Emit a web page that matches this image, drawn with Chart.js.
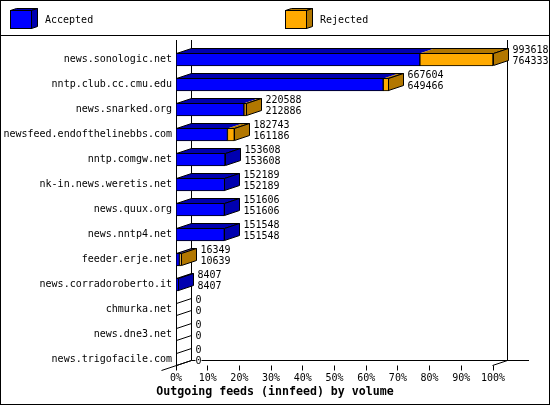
<!DOCTYPE html>
<html>
<head>
<meta charset="utf-8">
<style>
body { margin: 0; background: #fff; }
canvas { display: block; }
</style>
<script src="https://cdn.jsdelivr.net/npm/chart.js@4"></script>
</head>
<body>
<canvas id="feeds" width="550" height="405"></canvas>
<script>
const feeds = ['news.sonologic.net', 'nntp.club.cc.cmu.edu', 'news.snarked.org', 'newsfeed.endofthelinebbs.com',
    'nntp.comgw.net', 'nk-in.news.weretis.net', 'news.quux.org', 'news.nntp4.net', 'feeder.erje.net',
    'news.corradoroberto.it', 'chmurka.net', 'news.dne3.net', 'news.trigofacile.com'];
const offered = [993618, 667604, 220588, 182743, 153608, 152189, 151606, 151548, 16349, 8407, 0, 0, 0];
const accepted = [764333, 649466, 212886, 161186, 153608, 152189, 151606, 151548, 10639, 8407, 0, 0, 0];
const rejected = offered.map((v, i) => v - accepted[i]);
const tickLabels = ['0%', '10%', '20%', '30%', '40%', '50%', '60%', '70%', '80%', '90%', '100%'];
const xTitle = 'Outgoing feeds (innfeed) by volume';

const BLUE = '#0000ff', DARK_BLUE = '#0000b0';
const ORANGE = '#ffaa00', DARK_ORANGE = '#b27700';
const FONT = '"DejaVu Sans Mono", monospace';
const DX = 15, DY = 5;

function poly(ctx, pts, fill, noStroke) {
    ctx.beginPath();
    pts.forEach((p, i) => i ? ctx.lineTo(p[0], p[1]) : ctx.moveTo(p[0], p[1]));
    ctx.closePath();
    if (fill) { ctx.fillStyle = fill; ctx.fill(); }
    if (!noStroke) ctx.stroke();
}

function line(ctx, x1, y1, x2, y2) {
    ctx.beginPath();
    ctx.moveTo(x1, y1);
    ctx.lineTo(x2, y2);
    ctx.stroke();
}

// frame, legend, axis title and the back walls
const walls = {
    id: 'walls',
    beforeDatasetsDraw(chart) {
        const ctx = chart.ctx, x = chart.scales.x;
        const x0 = x.left + 0.5, x1 = x.right - 0.5, top = 40, floor = 365.5;
        ctx.save();
        ctx.strokeStyle = '#000';
        ctx.lineWidth = 1;
        ctx.strokeRect(0.5, 0.5, 549, 404);
        line(ctx, 0, 35.5, 550, 35.5);

        chart.data.datasets.forEach((ds, i) => {
            const left = i == 0 ? 10 : 285;
            poly(ctx, [[left + 0.5, 10.5], [left + 6.5, 8.5], [left + 27.5, 8.5], [left + 21.5, 10.5]], ds.sideColor);
            poly(ctx, [[left + 21.5, 10.5], [left + 27.5, 8.5], [left + 27.5, 26.5], [left + 21.5, 28.5]], ds.sideColor);
            ctx.fillStyle = ds.backgroundColor;
            ctx.fillRect(left + 0.5, 10.5, 21, 18);
            ctx.strokeRect(left + 0.5, 10.5, 21, 18);
            ctx.fillStyle = '#000';
            ctx.font = '10px ' + FONT;
            ctx.textBaseline = 'middle';
            ctx.textAlign = 'left';
            ctx.fillText(ds.label, left + 35, 20);
        });

        ctx.fillStyle = '#000';
        ctx.font = 'bold 11.6px ' + FONT;
        ctx.textAlign = 'center';
        ctx.fillText(xTitle, 275, 392);

        line(ctx, x0, top, x0, floor);
        line(ctx, x0 + DX, top, x0 + DX, floor - DY);
        line(ctx, x1 + DX, top, x1 + DX, floor - DY);
        line(ctx, x0 + DX, floor - DY, 529, floor - DY);
        line(ctx, x0 - DX, floor + DY, x0 + DX, floor - DY);
        line(ctx, x1, floor, x1 + DX, floor - DY);
        x.ticks.forEach((t) => {
            const px = Math.round(x.getPixelForValue(t.value) - 0.5) + 0.5;
            line(ctx, px, floor, px, floor + 5);
        });
        ctx.restore();
    }
};

// depth faces of the bars and the two value labels of every row
const faces = {
    id: 'faces',
    afterDatasetsDraw(chart) {
        const ctx = chart.ctx, x = chart.scales.x, y = chart.scales.y;
        ctx.save();
        ctx.strokeStyle = '#000';
        ctx.lineWidth = 1;
        ctx.font = '10px ' + FONT;
        ctx.textBaseline = 'middle';
        ctx.textAlign = 'left';
        feeds.forEach((name, i) => {
            const yc = y.getPixelForValue(i);
            const yt = yc - 6, yb = yc + 6;
            const x0 = x.left + 0.5;
            const x1 = Math.round(x.getPixelForValue(accepted[i]) - 0.5) + 0.5;
            const x2 = Math.round(x.getPixelForValue(offered[i]) - 0.5) + 0.5;
            const side = rejected[i] > 0 ? DARK_ORANGE : (offered[i] > 0 ? DARK_BLUE : null);

            if (offered[i] > 0) {
                poly(ctx, [[x0, yt], [x0 + DX, yt - DY], [x1 + DX, yt - DY], [x1, yt]], DARK_BLUE, true);
                if (rejected[i] > 0) {
                    poly(ctx, [[x1, yt], [x1 + DX, yt - DY], [x2 + DX, yt - DY], [x2, yt]], DARK_ORANGE, true);
                }
                poly(ctx, [[x0, yt], [x0 + DX, yt - DY], [x2 + DX, yt - DY], [x2, yt]]);
            }
            poly(ctx, [[x2, yt], [x2 + DX, yt - DY], [x2 + DX, yb - DY], [x2, yb]], side);

            const tx = x2 + DX + 4;
            [offered[i], accepted[i]].forEach((v, k) => {
                const ty = yc + (k == 0 ? -9.5 : 1.5);
                const s = String(v);
                ctx.fillStyle = '#fff';
                ctx.fillRect(tx, ty - 5, ctx.measureText(s).width, 10);
                ctx.fillStyle = '#000';
                ctx.fillText(s, tx, ty);
            });
        });
        ctx.restore();
    }
};

new Chart(document.getElementById('feeds'), {
    type: 'bar',
    data: {
        labels: feeds,
        datasets: [
            { label: 'Accepted', data: accepted, backgroundColor: BLUE, sideColor: DARK_BLUE },
            { label: 'Rejected', data: rejected, backgroundColor: ORANGE, sideColor: DARK_ORANGE }
        ]
    },
    options: {
        indexAxis: 'y',
        responsive: false,
        animation: false,
        devicePixelRatio: 1,
        layout: { padding: { left: 0, top: 47, right: 57, bottom: 0 } },
        datasets: {
            bar: { barThickness: 13, borderColor: '#000', borderWidth: 1, borderSkipped: false }
        },
        plugins: {
            legend: { display: false },
            tooltip: { enabled: false }
        },
        scales: {
            x: {
                stacked: true,
                min: 0,
                max: Math.max(...offered),
                afterBuildTicks(scale) {
                    scale.ticks = tickLabels.map((t, i) => ({ value: scale.max * i / 10 }));
                },
                afterFit(scale) { scale.height = 33; },
                grid: { display: false, drawTicks: false },
                border: { display: false },
                ticks: {
                    color: '#000',
                    autoSkip: false,
                    maxRotation: 0,
                    padding: 0,
                    font: { family: FONT, size: 10 },
                    callback: (v, i) => tickLabels[i]
                }
            },
            y: {
                stacked: true,
                afterFit(scale) { scale.width = 176; },
                grid: { display: false, drawTicks: false },
                border: { display: false },
                ticks: {
                    color: '#000',
                    autoSkip: false,
                    padding: 4,
                    font: { family: FONT, size: 10 }
                }
            }
        }
    },
    plugins: [walls, faces]
});
</script>
</body>
</html>
